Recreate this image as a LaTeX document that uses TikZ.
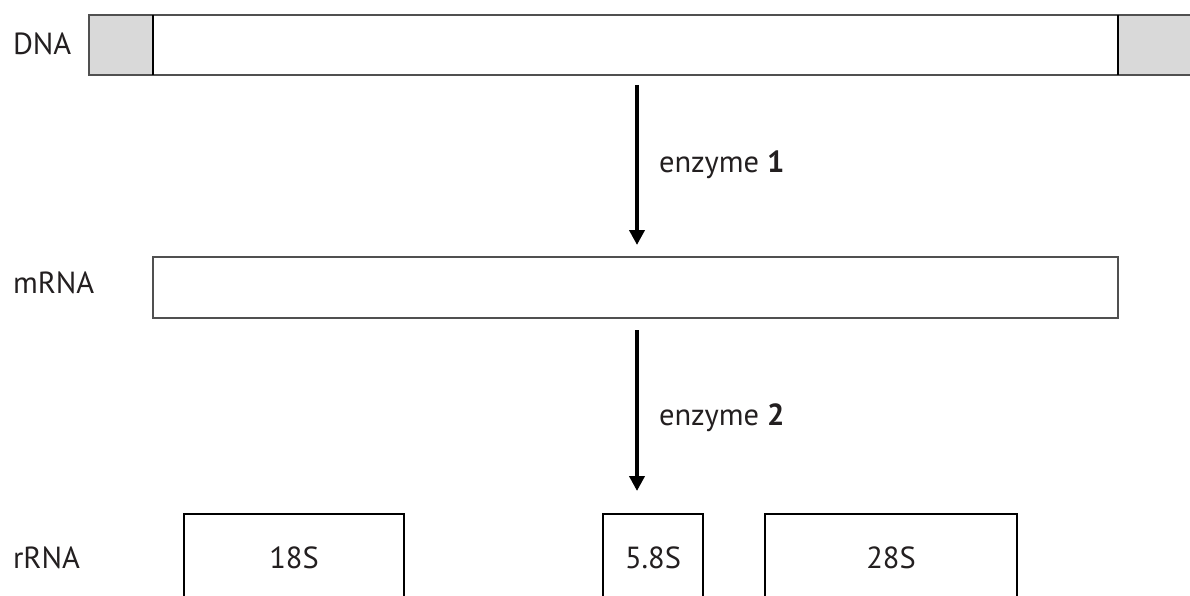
\documentclass[tikz,border=0pt]{standalone}
\usepackage{fontspec}
\setmainfont{PT Sans}
\usetikzlibrary{arrows.meta}
\definecolor{capgray}{HTML}{D9D9D9}
\definecolor{edgegray}{HTML}{505050}
\definecolor{ink}{HTML}{231F20}
\begin{document}
\begin{tikzpicture}[x=1pt,y=-1pt,
  every node/.style={outer sep=0pt, inner sep=0pt},
  txt/.style={font=\fontsize{30.5}{36}\selectfont, text=ink},
  strand/.style={draw=edgegray, line width=2pt, anchor=north west, minimum height=60pt},
  endcap/.style={fill=capgray, anchor=north west, minimum height=60pt},
  piece/.style={draw=black, line width=2.6pt, anchor=north west, minimum height=88pt, txt},
  flow/.style={line width=4.5pt, -{Triangle[width=15pt,length=15pt]}}
]
\useasboundingbox (0,0) rectangle (1190,596);
\fill[white] (0,0) rectangle (1190,596);

% DNA strand with shaded flanking regions
\node[endcap, minimum width=64pt] (capL) at (89,15) {};
\node[endcap, minimum width=90pt] (capR) at (1118,15) {};
\node[strand, minimum width=1120pt] (dna) at (89,15) {};
\draw[black, line width=2pt] (capL.north east) -- (capL.south east);
\draw[black, line width=2pt] (capR.north west) -- (capR.south west);

% mRNA transcript
\node[strand, minimum width=965pt, minimum height=61pt] (mrna) at (153,257) {};

% rRNA products
\node[piece, minimum width=220pt] (s18) at (184,514) {18S};
\node[piece, minimum width=100pt] (s58) at (603,514) {5.8S};
\node[piece, minimum width=252pt] (s28) at (765,514) {28S};

% row labels
\node[txt, anchor=base west] (ldna) at (13,55) {DNA};
\node[txt, anchor=base west] (lmrna) at (13,293) {mRNA};
\node[txt, anchor=base west] (lrrna) at (13,568) {rRNA};

% processing steps
\coordinate (ax) at (637,0);
\draw[flow, shorten <=10pt, shorten >=12pt] (dna.south -| ax) -- (mrna.north -| ax);
\draw[flow, shorten <=12pt, shorten >=23pt] (mrna.south -| ax) -- (s58.north -| ax);
\node[txt, anchor=base west] (e1) at (659,172) {enzyme \textbf{1}};
\node[txt, anchor=base west] (e2) at (659,425) {enzyme \textbf{2}};
\end{tikzpicture}
\end{document}
